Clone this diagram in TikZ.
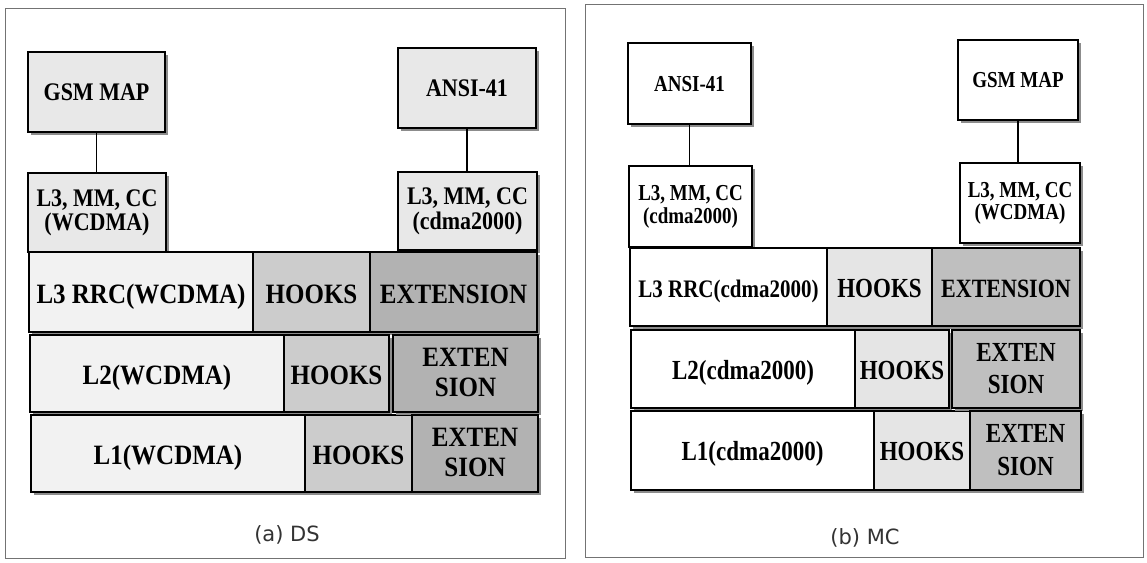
\documentclass[tikz,border=0pt]{standalone}
\usepackage{fontspec}
\usepackage{graphicx}
\setmainfont{Liberation Serif}
\newfontfamily\capfont{DejaVu Sans}
\usetikzlibrary{shadows}
\tikzset{
  box/.style={draw=black, line width=1.5pt, inner sep=0.5pt, outer sep=0pt, align=center,
    drop shadow={shadow xshift=3pt, shadow yshift=-3pt, fill=black!45, opacity=1}},
  rowfA/.style={font=\bfseries\fontsize{25}{27}\selectfont},
  topfA/.style={font=\bfseries\fontsize{22}{20}\selectfont},
  rowfB/.style={font=\bfseries\fontsize{23}{27}\selectfont},
  topfB/.style={font=\bfseries\fontsize{19}{19}\selectfont},
  topA/.style={box, topfA, fill=black!9},
  lowA/.style={box, rowfA, fill=black!5},
  hookA/.style={box, rowfA, fill=black!20},
  extA/.style={box, rowfA, fill=black!30},
  topB/.style={box, topfB, fill=white},
  lowB/.style={box, rowfB, fill=white},
  hookB/.style={box, rowfB, fill=black!10},
  extB/.style={box, rowfB, fill=black!25},
  panel/.style={draw=black!55, line width=0.8pt},
  conn/.style={draw=black, line width=1.5pt},
  captext/.style={font=\capfont\fontsize{21}{24}\selectfont, text=black!80}
}
\def\textys{1.12}
\def\textdrop{4pt}
\newcommand{\bx}[7]{\node[#2, minimum width={#5-#3}, minimum height={#6-#4}] (#1) at ({(#3+#5)/2},{(#4+#6)/2}) {\raisebox{-\textdrop}[\height][\depth]{\scalebox{1}[\textys]{\begin{tabular}{@{}c@{}}#7\end{tabular}}}};}
\begin{document}
\begin{tikzpicture}[x=1pt,y=-1pt]
\useasboundingbox[fill=white] (0,0) rectangle (1147,562);
% panels
\draw[panel] (5,8) rectangle (565,558);
\draw[panel] (585,4) rectangle (1143,557);
% ---- (a) DS ----
\def\textys{1.15}
\bx{gsmA}{topA}{28}{52}{165}{132}{GSM MAP}
\bx{ansiA}{topA}{398}{48}{536}{128}{ANSI-41}
\def\textdrop{1pt}
\bx{mmwA}{topA}{28}{173}{166}{252}{L3, MM, CC\\(WCDMA)}
\bx{mmcA}{topA}{398}{172}{537}{250}{L3, MM, CC\\(cdma2000)}
\draw[conn] (gsmA.south) -- (gsmA.south |- mmwA.north);
\draw[conn] (ansiA.south) -- (ansiA.south |- mmcA.north);
\def\textys{1.12}
\def\textdrop{5pt}
\bx{rrcA}{lowA}{29}{252}{253}{332}{L3 RRC(WCDMA)}
\bx{hk1A}{hookA}{253}{252}{370}{332}{HOOKS}
\bx{ex1A}{extA}{370}{252}{537}{332}{EXTENSION}
\bx{l2A}{lowA}{30}{335}{284}{412}{L2(WCDMA)}
\bx{hk2A}{hookA}{284}{335}{389}{412}{HOOKS}
\bx{l1A}{lowA}{31}{415}{305}{492}{L1(WCDMA)}
\bx{hk3A}{hookA}{305}{415}{412}{492}{HOOKS}
\def\textdrop{2pt}
\bx{ex2A}{extA}{393}{335}{538}{412}{EXTEN\\SION}
\bx{ex3A}{extA}{412}{415}{538}{492}{EXTEN\\SION}
\node[captext] (capA) at (287,535) {(a) DS};
% ---- (b) MC ----
\def\textys{1.2}
\def\textdrop{3pt}
\bx{ansiB}{topB}{628}{43}{751}{124}{ANSI-41}
\bx{gsmB}{topB}{958}{40}{1078}{120}{GSM MAP}
\def\textdrop{1pt}
\bx{mmcB}{topB}{629}{166}{752}{247}{L3, MM, CC\\(cdma2000)}
\bx{mmwB}{topB}{960}{163}{1080}{243}{L3, MM, CC\\(WCDMA)}
\draw[conn] (ansiB.south) -- (ansiB.south |- mmcB.north);
\draw[conn] (gsmB.south) -- (gsmB.south |- mmwB.north);
\def\textdrop{4pt}
\bx{rrcB}{lowB}{630}{248}{827}{326}{\fontsize{21}{24}\selectfont L3 RRC(cdma2000)}
\bx{hk1B}{hookB}{827}{248}{932}{326}{HOOKS}
\bx{ex1B}{extB}{932}{248}{1080}{326}{\fontsize{22}{24}\selectfont EXTENSION}
\bx{l2B}{lowB}{631}{330}{855}{408}{L2(cdma2000)}
\bx{hk2B}{hookB}{855}{330}{949}{408}{HOOKS}
\bx{l1B}{lowB}{631}{411}{874}{490}{L1(cdma2000)}
\bx{hk3B}{hookB}{874}{411}{970}{490}{HOOKS}
\def\textdrop{2pt}
\bx{ex2B}{extB}{952}{330}{1080}{408}{EXTEN\\SION}
\bx{ex3B}{extB}{970}{411}{1081}{490}{EXTEN\\SION}
\node[captext] (capB) at (865,538) {(b) MC};
\end{tikzpicture}
\end{document}
